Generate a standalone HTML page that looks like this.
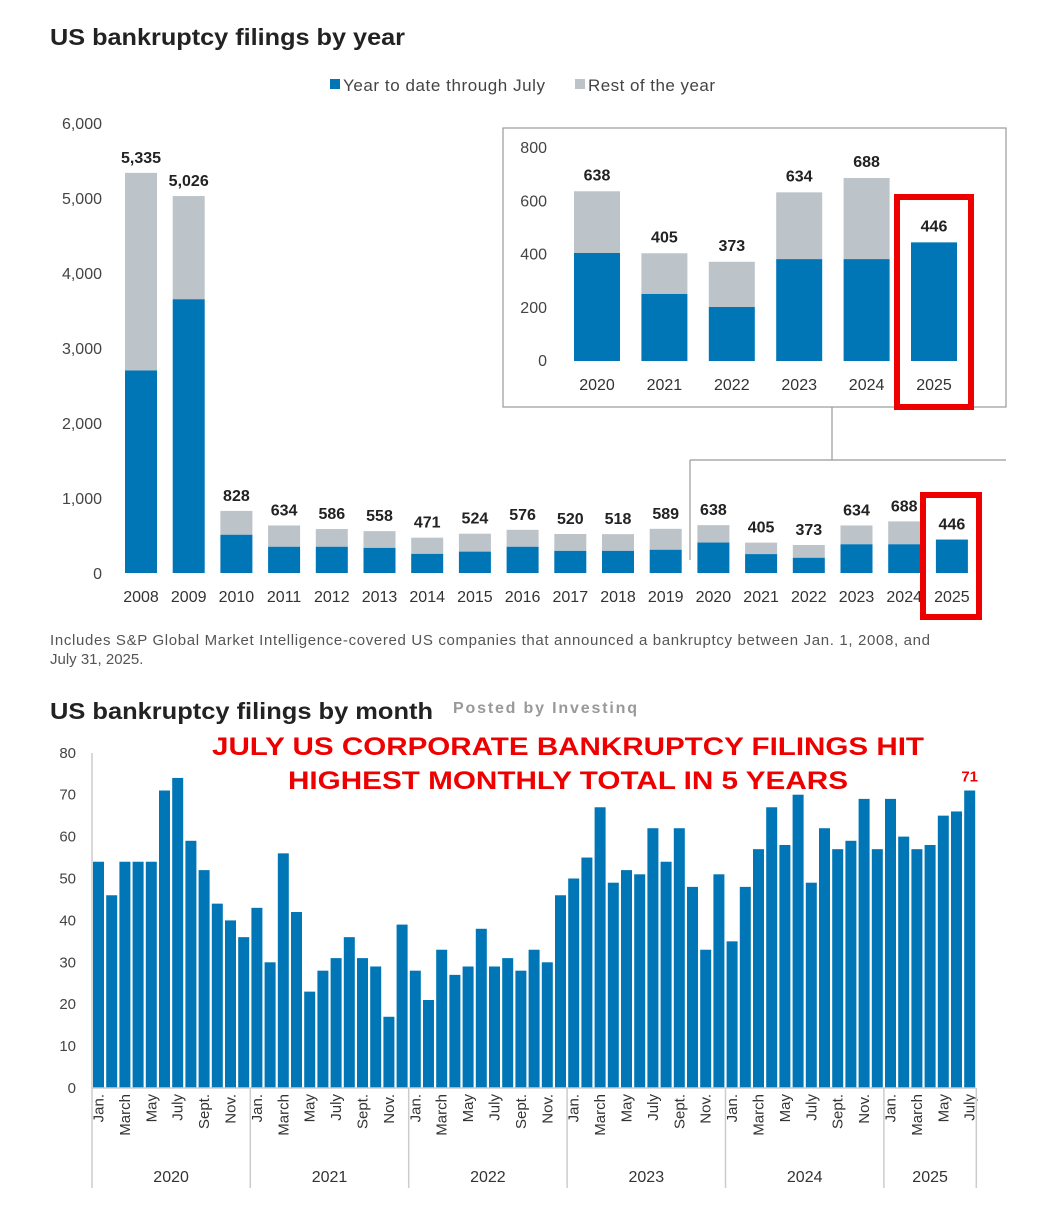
<!DOCTYPE html>
<html><head><meta charset="utf-8"><style>
body{margin:0;background:#fff;width:1049px;height:1200px;overflow:hidden}
svg{font-family:"Liberation Sans",sans-serif}
</style></head><body>
<svg id="s" width="1049" height="1200">
<text x="50" y="45" font-size="23" font-weight="bold" fill="#222" textLength="355" lengthAdjust="spacingAndGlyphs">US bankruptcy filings by year</text>
<rect x="330" y="79" width="10" height="10" fill="#0076b6"/>
<text x="343" y="91" font-size="17" fill="#444" textLength="202">Year to date through July</text>
<rect x="575" y="79" width="10" height="10" fill="#bcc3c9"/>
<text x="588" y="91" font-size="17" fill="#444" textLength="127">Rest of the year</text>
<g id="topg"></g>
<rect x="503" y="128" width="503" height="279" fill="none" stroke="#999" stroke-width="1.2"/>
<path d="M832 407 V460 M690 460 H1006 M690 460 V560" fill="none" stroke="#999" stroke-width="1.2"/>
<g id="inset"></g>
<rect x="897" y="197" width="74" height="210" fill="none" stroke="#e00" stroke-width="6"/>
<rect x="923" y="495" width="56" height="122" fill="none" stroke="#e00" stroke-width="6"/>
<text x="50" y="645" font-size="15" fill="#555" textLength="880">Includes S&amp;P Global Market Intelligence-covered US companies that announced a bankruptcy between Jan. 1, 2008, and</text>
<text x="50" y="664" font-size="15" fill="#555">July 31, 2025.</text>
<text x="50" y="719" font-size="23" font-weight="bold" fill="#222" textLength="383" lengthAdjust="spacingAndGlyphs">US bankruptcy filings by month</text>
<text x="453" y="713" font-size="16" font-weight="bold" fill="#999" textLength="184">Posted by Investinq</text>
<text x="568" y="755" font-size="25" font-weight="bold" fill="#e00" text-anchor="middle" textLength="712" lengthAdjust="spacingAndGlyphs">JULY US CORPORATE BANKRUPTCY FILINGS HIT</text>
<text x="568" y="789" font-size="25" font-weight="bold" fill="#e00" text-anchor="middle" textLength="560" lengthAdjust="spacingAndGlyphs">HIGHEST MONTHLY TOTAL IN 5 YEARS</text>
<g id="bot"></g>
</svg>
<script>
const years=["2008","2009","2010","2011","2012","2013","2014","2015","2016","2017","2018","2019","2020","2021","2022","2023","2024","2025"];
const totals=[5335,5026,828,634,586,558,471,524,576,520,518,589,638,405,373,634,688,446];
const ytd=[2700,3650,510,350,350,335,255,285,350,295,295,310,406,252,203,383,383,446];
const yTicks=[0,1000,2000,3000,4000,5000,6000];
const insetTicks=[0,200,400,600,800];
const monthly=[54,46,54,54,54,71,74,59,52,44,40,36, 43,30,56,42,23,28,31,36,31,29,17,39, 28,21,33,27,29,38,29,31,28,33,30,46, 50,55,67,49,52,51,62,54,62,48,33,51, 35,48,57,67,58,70,49,62,57,59,69,57, 69,60,57,58,65,66,71];
const monthNames=["Jan.","","March","","May","","July","","Sept.","","Nov.",""];
const mTicks=[0,10,20,30,40,50,60,70,80];
const mYears=["2020","2021","2022","2023","2024","2025"];
const NS="http://www.w3.org/2000/svg";
function mk(p,t,a,txt){const e=document.createElementNS(NS,t);for(const k in a)e.setAttribute(k,a[k]);if(txt!==undefined)e.textContent=txt;p.appendChild(e);return e;}
const fmt=v=>v.toLocaleString('en-US');
// top chart
const topG=document.getElementById('topg');
const ty=v=>573-v*0.075, tx=i=>141+i*47.7;
yTicks.forEach(t=>{const e=mk(topG,'text',{x:102,y:ty(t)+6,'font-size':16,fill:'#444','text-anchor':'end'},fmt(t));

});
years.forEach((y,i)=>{
 let r=mk(topG,'rect',{x:tx(i)-16,y:ty(totals[i]),width:32,height:ty(ytd[i])-ty(totals[i]),fill:'#bcc3c9'});
 
 
 r=mk(topG,'rect',{x:tx(i)-16,y:ty(ytd[i]),width:32,height:573-ty(ytd[i]),fill:'#0076b6'});
 
 
 let l=mk(topG,'text',{x:tx(i),y:ty(totals[i])-10,'font-size':16,'font-weight':'bold',fill:'#222','text-anchor':'middle'},fmt(totals[i]));
 
 
 l=mk(topG,'text',{x:tx(i),y:602,'font-size':16,fill:'#333','text-anchor':'middle'},y);
 
 
});
// inset
const ins=document.getElementById('inset');
const iy=v=>361-v*0.266, ix=i=>597+i*67.4;
insetTicks.forEach(t=>{const e=mk(ins,'text',{x:547,y:iy(t)+5,'font-size':16,fill:'#444','text-anchor':'end'},t);

});
for(let k=0;k<6;k++){const i=12+k;
 let r=mk(ins,'rect',{x:ix(k)-23,y:iy(totals[i]),width:46,height:iy(ytd[i])-iy(totals[i]),fill:'#bcc3c9'});
 
 
 r=mk(ins,'rect',{x:ix(k)-23,y:iy(ytd[i]),width:46,height:361-iy(ytd[i]),fill:'#0076b6'});
 
 
 let l=mk(ins,'text',{x:ix(k),y:iy(totals[i])-11,'font-size':16,'font-weight':'bold',fill:'#222','text-anchor':'middle'},totals[i]);
 
 
 l=mk(ins,'text',{x:ix(k),y:390,'font-size':16,fill:'#333','text-anchor':'middle'},years[i]);
 
 
}
// bottom chart
const bot=document.getElementById('bot');
const by=v=>1088-v*4.19, bx=i=>98.5+i*13.2;
mTicks.forEach(t=>{const e=mk(bot,'text',{x:76,y:by(t)+5,'font-size':15,fill:'#444','text-anchor':'end'},t);

});
let ax=mk(bot,'line',{x1:92,y1:753,x2:92,y2:1188,stroke:'#ccc','stroke-width':1.5});


monthly.forEach((v,i)=>{
 const r=mk(bot,'rect',{x:bx(i)-5.5,y:by(v),width:11,height:1088-by(v),fill:'#0076b6'});
 
 
 const n=monthNames[i%12];
 if(n){const l=mk(bot,'text',{transform:`translate(${bx(i)+5},1094) rotate(-90)`,'font-size':15,fill:'#333','text-anchor':'end'},n);
 
 }
});
ax=mk(bot,'line',{x1:92,y1:1088,x2:bx(monthly.length-1)+6,y2:1088,stroke:'#ccc','stroke-width':1.5});


mYears.forEach((y,k)=>{
 const s=k*12, e=Math.min(s+12,monthly.length);
 const x2=bx(e-1)+6.6;
 const ln=mk(bot,'line',{x1:x2,y1:1088,x2:x2,y2:1188,stroke:'#ccc','stroke-width':1.5});
 
 
 const l=mk(bot,'text',{x:(bx(s)+bx(e-1))/2,y:1182,'font-size':16,fill:'#333','text-anchor':'middle'},y);
 
 
});
const last=monthly.length-1;
const vl=mk(bot,'text',{x:bx(last),y:by(monthly[last])-9,'font-size':15,'font-weight':'bold',fill:'#e00','text-anchor':'middle'},monthly[last]);


</script>
</body></html>
